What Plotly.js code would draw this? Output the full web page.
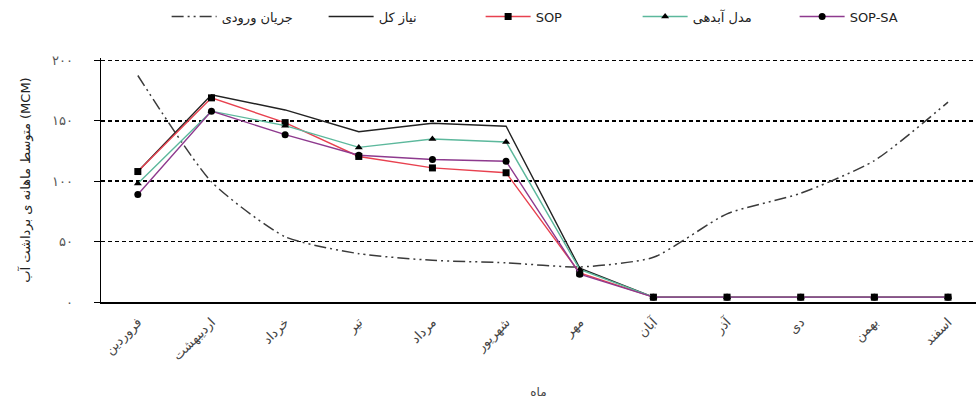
<!DOCTYPE html>
<html><head><meta charset="utf-8">
<script src="https://cdn.plot.ly/plotly-3.0.1.min.js"></script>
<style>body{margin:0;background:#fff}#c{width:976px;height:402px}</style>
</head><body><div id="c"></div>
<script>
const months = ['فروردین','اردیبهشت','خرداد','تیر','مرداد','شهریور','مهر','آبان','آذر','دی','بهمن','اسفند'];
const inflow = [187.5, 99.5, 54, 40, 34.5, 32.5, 29, 37, 73, 90, 117, 165.5];
const demand = [108, 171.5, 159, 141, 148, 145.5, 28, 4, 4, 4, 4, 4];
const sop = [108, 169, 148.5, 120.5, 111, 107, 24, 4, 4, 4, 4, 4];
const modal = [98, 158, 146, 128, 135, 132.5, 27, 4, 4, 4, 4, 4];
const sopsa = [89, 158, 138.5, 121.5, 118, 116.5, 23, 4, 4, 4, 4, 4];
const yTickVals = [0, 50, 100, 150, 200];
const yTickText = ['۰', '۵۰', '۱۰۰', '۱۵۰', '۲۰۰'];

const faFont = 'DejaVu Sans, sans-serif';
const traces = [
  {x: months, y: inflow, name: 'جریان ورودی', mode: 'lines', line: {color: '#3a3a3a', width: 1.5, dash: '12px,4px,2px,4px,2px,4px', shape: 'spline', smoothing: 0.6}},
  {x: months, y: demand, name: 'نیاز کل', mode: 'lines', line: {color: '#222', width: 1.4}},
  {x: months, y: sop, name: 'SOP', mode: 'lines+markers', line: {color: '#e8414f', width: 1.4}, marker: {symbol: 'square', size: 7, color: '#000'}},
  {x: months, y: modal, name: 'مدل آبدهی', mode: 'lines+markers', line: {color: '#5cb89c', width: 1.4}, marker: {symbol: 'triangle-up', size: 7, color: '#000'}},
  {x: months, y: sopsa, name: 'SOP-SA', mode: 'lines+markers', line: {color: '#8e3a8e', width: 1.4}, marker: {symbol: 'circle', size: 7, color: '#000'}}
];
const layout = {
  width: 976, height: 402,
  margin: {l: 101, r: 0, t: 58, b: 100},
  paper_bgcolor: '#fff', plot_bgcolor: '#fff',
  font: {family: faFont, size: 12, color: '#333'},
  showlegend: true,
  legend: {orientation: 'h', x: 0.075, xanchor: 'left', y: 1.17, yanchor: 'middle',
    font: {family: faFont, size: 13, color: '#222'}, entrywidth: 97, entrywidthmode: 'pixels', itemwidth: 45, tracegroupgap: 0},
  xaxis: {
    type: 'category', range: [-0.5, 11.38],
    showline: true, linecolor: '#000', linewidth: 1.5,
    showgrid: false, ticks: '', tickangle: -45, ticklabelstandoff: 6,
    tickfont: {family: faFont, size: 13, color: '#444'},
    title: {text: 'ماه', font: {family: faFont, size: 12, color: '#444'}, standoff: 24}
  },
  yaxis: {
    range: [0, 202], tickvals: yTickVals, ticktext: yTickText,
    showline: true, linecolor: '#000', linewidth: 1.5,
    ticks: 'outside', ticklen: 6, tickcolor: '#000', ticklabelstandoff: 18,
    showgrid: true, gridcolor: '#000', griddash: '4px,3px', gridwidth: 1.5,
    zeroline: false,
    tickfont: {family: faFont, size: 13, color: '#555'},
    title: {text: 'متوسط ماهانه ی برداشت آب (MCM)', font: {family: faFont, size: 13, color: '#222'}, standoff: 18}
  }
};
Plotly.newPlot('c', traces, layout, {displayModeBar: false, staticPlot: true});
</script></body></html>
